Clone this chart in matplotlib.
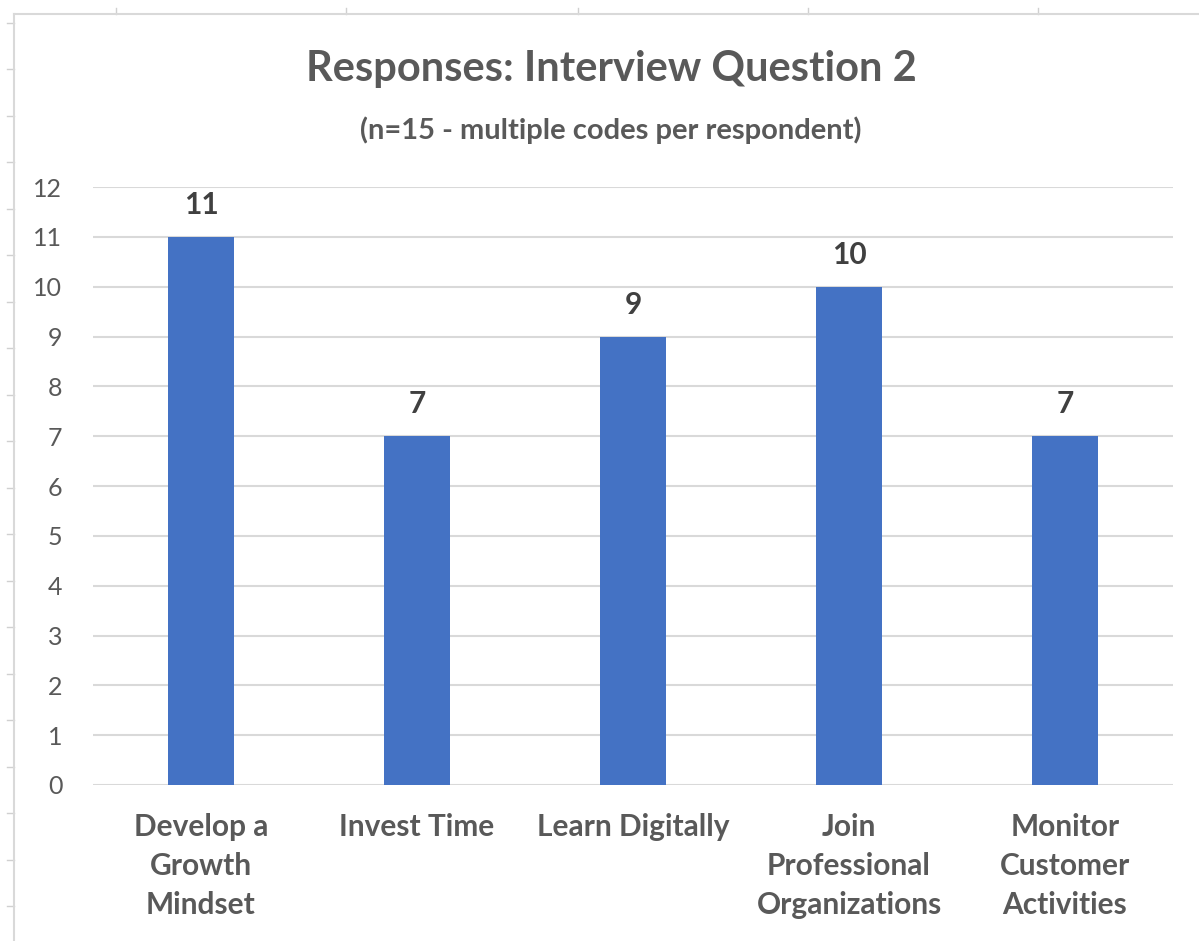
import matplotlib
matplotlib.use('Agg')
import matplotlib.pyplot as plt
from matplotlib.lines import Line2D

categories = ['Develop a\nGrowth\nMindset', 'Invest Time', 'Learn Digitally',
              'Join\nProfessional\nOrganizations', 'Monitor\nCustomer\nActivities']
counts = [11, 7, 9, 10, 7]
yticks = list(range(0, 13))

W, H = 1199, 941
plt.rcParams['font.family'] = ['Lato', 'DejaVu Sans']

fig = plt.figure(figsize=(W / 100, H / 100), dpi=100)

# sheet grid ticks and chart frame
def px_line(x0, y0, x1, y1, **kw):
    fig.add_artist(Line2D([x0 / W, x1 / W], [1 - y0 / H, 1 - y1 / H],
                          transform=fig.transFigure, **kw))

for x in [116, 346, 578, 808, 1038]:
    px_line(x, 8, x, 14, color='#d0d0d0', lw=1)
for k in range(20):
    y = 22.7 + 46.5 * k
    px_line(7, y, 14, y, color='#d0d0d0', lw=1)
px_line(14, 14, W, 14, color='#d9d9d9', lw=1.5)
px_line(14, 14, 14, H, color='#d9d9d9', lw=1.5)

ax = fig.add_axes([93 / W, 1 - 785 / H, (1173 - 93) / W, (785 - 187) / H])
x = range(len(counts))
bars = ax.bar(x, counts, width=0.31, color='#4472c4', zorder=3)

ax.set_ylim(0, 12)
ax.set_xlim(-0.5, len(counts) - 0.5)
ax.set_yticks(yticks)
ax.yaxis.grid(True, color='#d9d9d9', lw=1.5, zorder=0)
ax.set_axisbelow(True)
for s in ax.spines.values():
    s.set_visible(False)
ax.tick_params(axis='both', length=0)
ax.tick_params(axis='y', labelsize=18, labelcolor='#595959', pad=22)
ax.set_xticks(list(x))
ax.set_xticklabels(categories, fontsize=21.5, fontweight='bold', color='#595959',
                   linespacing=1.48, va='top')
ax.tick_params(axis='x', pad=20)

for b, v in zip(bars, counts):
    ax.annotate(str(v), (b.get_x() + b.get_width() / 2, v), xytext=(0, 23),
                textcoords='offset points', ha='center', va='center',
                fontsize=21.5, fontweight='bold', color='#404040')

fig.text(611 / W, 1 - 69 / H, 'Responses: Interview Question 2', ha='center',
         va='center', fontsize=30, fontweight='bold', color='#595959')
fig.text(611 / W, 1 - 130 / H, '(n=15 - multiple codes per respondent)',
         ha='center', va='center', fontsize=21, fontweight='bold', color='#595959')

fig.savefig('out.png', dpi=100, facecolor='white')
